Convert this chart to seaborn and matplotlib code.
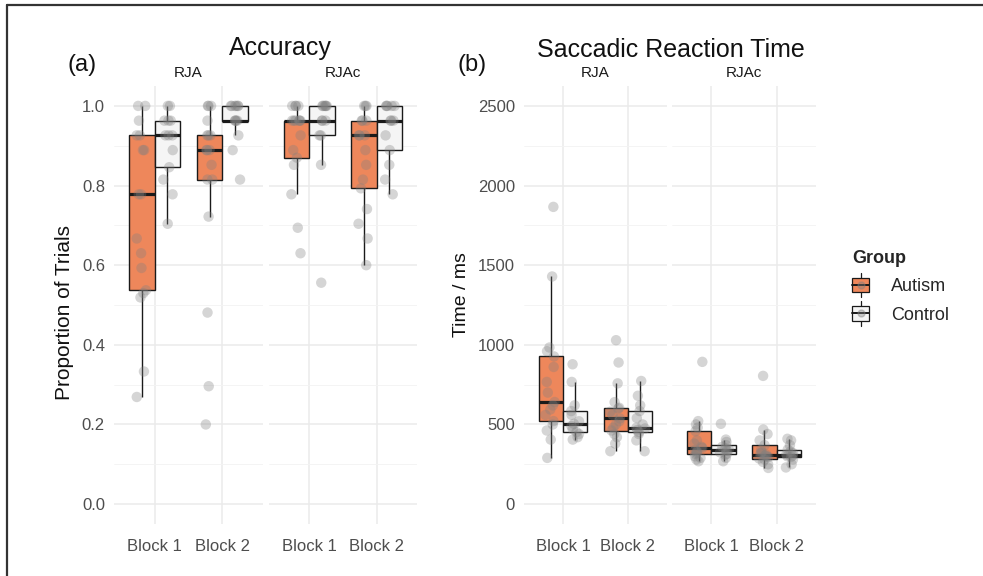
import numpy as np
import pandas as pd
import matplotlib
matplotlib.use("Agg")
import matplotlib.pyplot as plt
import seaborn as sns
from matplotlib.legend_handler import HandlerBase
from matplotlib.patches import Rectangle, Patch
from matplotlib.lines import Line2D

# ---------------- data ----------------
groups = ["Autism", "Control"]
blocks = ["Block 1", "Block 2"]
conditions = ["RJA", "RJAc"]

# Accuracy (proportion of trials)
acc_autism_rja_b1 = [0.269, 0.333, 0.519, 0.53, 0.537, 0.593, 0.63, 0.667, 0.778, 0.778,
                     0.889, 0.889, 0.926, 0.926, 0.963, 1.0, 1.0]
acc_control_rja_b1 = [0.704, 0.778, 0.815, 0.846, 0.889, 0.926, 0.926, 0.926, 0.963, 0.963,
                      0.963, 1.0, 1.0]
acc_autism_rja_b2 = [0.2, 0.296, 0.481, 0.722, 0.815, 0.815, 0.852, 0.889, 0.889, 0.889,
                     0.926, 0.926, 0.926, 0.963, 1.0, 1.0, 1.0]
acc_control_rja_b2 = [0.815, 0.889, 0.926, 0.963, 0.963, 0.963, 0.963, 1.0, 1.0, 1.0,
                      1.0, 1.0, 1.0]
acc_autism_rjac_b1 = [0.63, 0.694, 0.778, 0.852, 0.87, 0.889, 0.926, 0.963, 0.963, 0.963,
                      0.963, 0.963, 0.963, 1.0, 1.0, 1.0, 1.0]
acc_control_rjac_b1 = [0.556, 0.852, 0.926, 0.926, 0.963, 0.963, 0.963, 1.0, 1.0, 1.0,
                       1.0, 1.0, 1.0]
acc_autism_rjac_b2 = [0.6, 0.667, 0.704, 0.741, 0.793, 0.815, 0.852, 0.889, 0.926, 0.926,
                      0.926, 0.963, 0.963, 0.963, 1.0, 1.0, 1.0]
acc_control_rjac_b2 = [0.778, 0.815, 0.852, 0.889, 0.926, 0.963, 0.963, 0.963, 1.0, 1.0,
                       1.0, 1.0, 1.0]

# Saccadic reaction time (ms)
srt_autism_rja_b1 = [290, 405, 462, 500, 521, 560, 594, 620, 641, 700, 767, 861, 927, 960,
                     983, 1429, 1866]
srt_control_rja_b1 = [405, 420, 440, 452, 470, 490, 504, 520, 560, 584, 620, 767, 878]
srt_autism_rja_b2 = [332, 380, 420, 440, 462, 480, 500, 520, 538, 560, 580, 600, 605, 640,
                     758, 889, 1029]
srt_control_rja_b2 = [332, 400, 440, 452, 465, 475, 479, 500, 540, 584, 620, 680, 773]
srt_autism_rjac_b1 = [269, 280, 290, 300, 315, 320, 330, 340, 353, 360, 380, 400, 458, 480,
                      500, 521, 893]
srt_control_rjac_b1 = [269, 290, 310, 315, 325, 335, 342, 350, 360, 370, 390, 405, 504]
srt_autism_rjac_b2 = [227, 250, 265, 280, 286, 295, 300, 305, 311, 318, 325, 340, 370, 400,
                      440, 468, 805]
srt_control_rjac_b2 = [230, 250, 280, 296, 300, 305, 311, 320, 330, 342, 370, 400, 410]

acc_ticks = [0.0, 0.2, 0.4, 0.6, 0.8, 1.0]
acc_ticklabels = ["0.0", "0.2", "0.4", "0.6", "0.8", "1.0"]
srt_ticks = [0, 500, 1000, 1500, 2000, 2500]
srt_ticklabels = ["0", "500", "1000", "1500", "2000", "2500"]


def long_frame(series):
    rows = []
    for (cond, block, grp), vals in series.items():
        for v in vals:
            rows.append({"Condition": cond, "Block": block, "Group": grp, "value": v})
    return pd.DataFrame(rows)


acc_df = long_frame({
    ("RJA", "Block 1", "Autism"): acc_autism_rja_b1,
    ("RJA", "Block 1", "Control"): acc_control_rja_b1,
    ("RJA", "Block 2", "Autism"): acc_autism_rja_b2,
    ("RJA", "Block 2", "Control"): acc_control_rja_b2,
    ("RJAc", "Block 1", "Autism"): acc_autism_rjac_b1,
    ("RJAc", "Block 1", "Control"): acc_control_rjac_b1,
    ("RJAc", "Block 2", "Autism"): acc_autism_rjac_b2,
    ("RJAc", "Block 2", "Control"): acc_control_rjac_b2,
})
srt_df = long_frame({
    ("RJA", "Block 1", "Autism"): srt_autism_rja_b1,
    ("RJA", "Block 1", "Control"): srt_control_rja_b1,
    ("RJA", "Block 2", "Autism"): srt_autism_rja_b2,
    ("RJA", "Block 2", "Control"): srt_control_rja_b2,
    ("RJAc", "Block 1", "Autism"): srt_autism_rjac_b1,
    ("RJAc", "Block 1", "Control"): srt_control_rjac_b1,
    ("RJAc", "Block 2", "Autism"): srt_autism_rjac_b2,
    ("RJAc", "Block 2", "Control"): srt_control_rjac_b2,
})

# ---------------- style ----------------
sns.set_style("white")
plt.rcParams["font.family"] = ["Liberation Sans", "DejaVu Sans"]
np.random.seed(7)

ORANGE = "#EE875B"
CTRL = "#F5F5F5"
LINE = "#1A1A1A"
PT = "#808080"
palette = {"Autism": ORANGE, "Control": CTRL}
pt_palette = {"Autism": PT, "Control": PT}

W, H = 983, 576
fig = plt.figure(figsize=(W / 100, H / 100), dpi=100)


def fx(x):
    return x / W


def fy(y):
    return 1 - y / H


def add_ax(x0, x1, y0=86, y1=524):
    return fig.add_axes([fx(x0), fy(y1), (x1 - x0) / W, (y1 - y0) / H])


def draw(ax, df, ylim, ticks, ticklabels, minor, show_y):
    sns.boxplot(data=df, x="Block", y="value", hue="Group", order=blocks,
                hue_order=groups, palette=palette, saturation=1, width=0.75, gap=0,
                dodge=True, linewidth=1.0, linecolor=LINE, showfliers=False, whis=1.5,
                medianprops=dict(linewidth=2.3, color=LINE),
                capprops=dict(linewidth=0), legend=False, ax=ax)
    sns.stripplot(data=df, x="Block", y="value", hue="Group", order=blocks,
                  hue_order=groups, palette=pt_palette, dodge=True, jitter=0.15,
                  size=7.5, alpha=0.33, linewidth=0, legend=False, zorder=4, ax=ax)
    ax.set_xlim(-0.6, 1.6)
    ax.set_ylim(*ylim)
    ax.set_yticks(ticks)
    ax.set_yticklabels(ticklabels)
    ax.set_yticks(minor, minor=True)
    ax.set_xlabel("")
    ax.set_ylabel("")
    for s in ax.spines.values():
        s.set_visible(False)
    ax.set_axisbelow(True)
    ax.grid(True, which="major", color="#EBEBEB", linewidth=1.1)
    ax.grid(True, which="minor", axis="y", color="#F3F3F3", linewidth=0.6)
    ax.tick_params(axis="both", which="major", color="#333333", length=3.5,
                   width=0.9, labelcolor="#4D4D4D", labelsize=12)
    ax.tick_params(axis="x", pad=7)
    ax.tick_params(axis="y", pad=3)
    ax.tick_params(axis="y", which="minor", length=0)
    if not show_y:
        ax.tick_params(axis="y", left=False, labelleft=False)


acc_minor = [0.1, 0.3, 0.5, 0.7, 0.9]
srt_minor = [250, 750, 1250, 1750, 2250]

a1 = add_ax(114, 263)
a2 = add_ax(269, 417)
b1 = add_ax(524, 667)
b2 = add_ax(672, 816)

draw(a1, acc_df[acc_df.Condition == "RJA"], (-0.05, 1.05), acc_ticks, acc_ticklabels, acc_minor, True)
draw(a2, acc_df[acc_df.Condition == "RJAc"], (-0.05, 1.05), acc_ticks, acc_ticklabels, acc_minor, False)
draw(b1, srt_df[srt_df.Condition == "RJA"], (-125, 2625), srt_ticks, srt_ticklabels, srt_minor, True)
draw(b2, srt_df[srt_df.Condition == "RJAc"], (-125, 2625), srt_ticks, srt_ticklabels, srt_minor, False)

# strip labels
for ax, lab in [(a1, "RJA"), (a2, "RJAc"), (b1, "RJA"), (b2, "RJAc")]:
    pos = ax.get_position()
    fig.text((pos.x0 + pos.x1) / 2, fy(73), lab, ha="center", va="center",
             fontsize=11, color="#1A1A1A")

# titles and labels
fig.text(fx(280), fy(48), "Accuracy", ha="center", va="center", fontsize=18, color="#111111")
fig.text(fx(671), fy(50), "Saccadic Reaction Time", ha="center", va="center", fontsize=18,
         color="#111111")
fig.text(fx(82), fy(65), "(a)", ha="center", va="center", fontsize=17, color="#111111")
fig.text(fx(472), fy(65), "(b)", ha="center", va="center", fontsize=17, color="#111111")
fig.text(fx(65), fy(312), "Proportion of Trials", rotation=90, ha="center", va="center",
         fontsize=15, color="#111111")
fig.text(fx(462), fy(295), "Time / ms", rotation=90, ha="center", va="center",
         fontsize=14, color="#111111")


# legend with ggplot-like box keys
class BoxKey(HandlerBase):
    def create_artists(self, legend, orig_handle, xdescent, ydescent, width, height,
                       fontsize, trans):
        x0, y0 = -xdescent, -ydescent
        fc = orig_handle.get_facecolor()
        cx = x0 + width / 2
        wl = Line2D([cx, cx], [y0 - 0.35 * height, y0 + 1.35 * height], color=LINE, lw=0.9)
        r = Rectangle((x0, y0), width, height, facecolor=fc, edgecolor=LINE, lw=0.9)
        m = Line2D([x0, x0 + width], [y0 + height / 2] * 2, color=LINE, lw=1.4)
        dot = Line2D([cx], [y0 + height / 2], marker="o", ms=5, color=PT, alpha=0.4, lw=0)
        arts = [wl, r, m, dot]
        for a in arts:
            a.set_transform(trans)
        return arts


handles = [Patch(facecolor=ORANGE), Patch(facecolor=CTRL)]
leg = fig.legend(handles=handles, labels=groups, title="Group",
                 handler_map={Patch: BoxKey()}, loc="upper left",
                 bbox_to_anchor=(fx(852), fy(250)), frameon=False, fontsize=13,
                 title_fontproperties={"weight": "bold", "size": 13},
                 handlelength=0.95, handleheight=0.85, handletextpad=1.2,
                 labelspacing=0.6, alignment="left", borderpad=0, borderaxespad=0)

# outer frame (top and left)
fig.add_artist(Line2D([fx(7), 1.0], [fy(5), fy(5)], color="#333333", lw=1.6))
fig.add_artist(Line2D([fx(7), fx(7)], [0.0, fy(5)], color="#333333", lw=1.6))

fig.savefig("out.png", dpi=100)
